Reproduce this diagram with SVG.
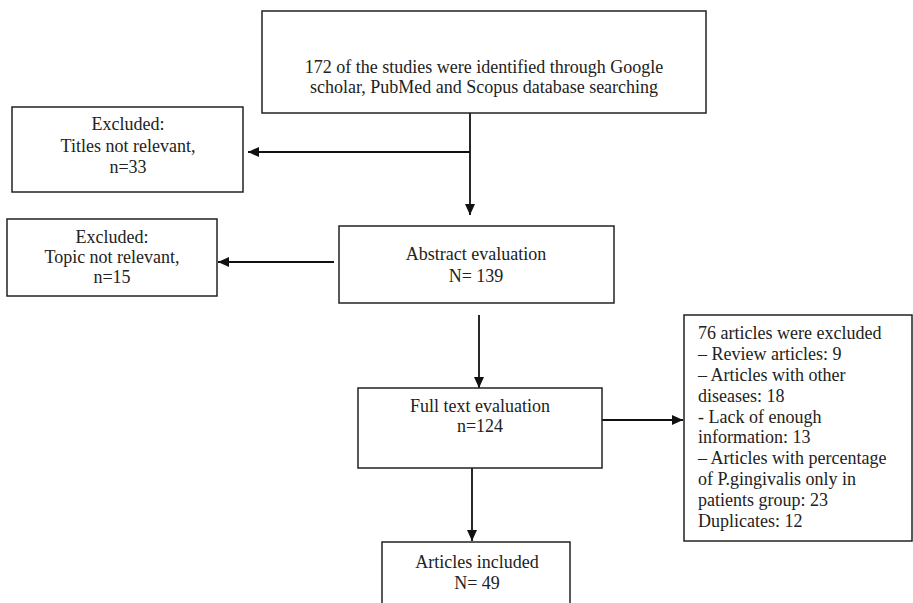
<svg xmlns="http://www.w3.org/2000/svg" width="913" height="603" viewBox="0 0 913 603">
<style>
.box{fill:#fff;stroke:#222;stroke-width:1.5}
.t{font-family:"Liberation Serif","Times New Roman",serif;font-size:18px;fill:#222}
.c{text-anchor:middle}
.ln{stroke:#111;stroke-width:1.8;fill:none}
</style>
<defs>
<marker id="ah" markerUnits="userSpaceOnUse" markerWidth="12" markerHeight="10" refX="11" refY="5" orient="auto">
<path d="M0,0 L11,5 L0,10 z" fill="#111"/>
</marker>
</defs>
<rect width="913" height="603" fill="#fff"/>
<g id="connectors">
<line class="ln" x1="470" y1="113" x2="470" y2="215" marker-end="url(#ah)"/>
<line class="ln" x1="470" y1="152" x2="248" y2="152" marker-end="url(#ah)"/>
<line class="ln" x1="334" y1="262" x2="218" y2="262" marker-end="url(#ah)"/>
<line class="ln" x1="479" y1="315" x2="479" y2="388" marker-end="url(#ah)"/>
<line class="ln" x1="602" y1="420" x2="683" y2="420" marker-end="url(#ah)"/>
<line class="ln" x1="472" y1="468" x2="472" y2="541" marker-end="url(#ah)"/>
</g>
<g id="identified">
<rect class="box" x="262" y="11" width="444" height="102"/>
<text class="t c" x="484" y="73">172 of the studies were identified through Google</text>
<text class="t c" x="484" y="93">scholar, PubMed and Scopus database searching</text>
</g>
<g id="excluded-titles">
<rect class="box" x="12" y="107" width="231" height="85"/>
<text class="t c" x="128" y="130">Excluded:</text>
<text class="t c" x="128" y="152">Titles not relevant,</text>
<text class="t c" x="128" y="173">n=33</text>
</g>
<g id="excluded-topic">
<rect class="box" x="7" y="219" width="210" height="77"/>
<text class="t c" x="112" y="243">Excluded:</text>
<text class="t c" x="112" y="263">Topic not relevant,</text>
<text class="t c" x="112" y="283">n=15</text>
</g>
<g id="abstract">
<rect class="box" x="339" y="226" width="275" height="77"/>
<text class="t c" x="476" y="260">Abstract evaluation</text>
<text class="t c" x="476" y="282">N= 139</text>
</g>
<g id="fulltext">
<rect class="box" x="358" y="388" width="244" height="80"/>
<text class="t c" x="480" y="412">Full text evaluation</text>
<text class="t c" x="480" y="432">n=124</text>
</g>
<g id="excluded-76">
<rect class="box" x="684" y="315" width="228" height="226"/>
<text class="t" x="698" y="339">76 articles were excluded</text>
<text class="t" x="698" y="360">– Review articles: 9</text>
<text class="t" x="698" y="381">– Articles with other</text>
<text class="t" x="698" y="402">diseases: 18</text>
<text class="t" x="698" y="423">- Lack of enough</text>
<text class="t" x="698" y="443">information: 13</text>
<text class="t" x="698" y="464">– Articles with percentage</text>
<text class="t" x="698" y="485">of P.gingivalis only in</text>
<text class="t" x="698" y="506">patients group: 23</text>
<text class="t" x="698" y="527">Duplicates: 12</text>
</g>
<g id="included">
<rect class="box" x="382" y="542" width="188" height="70"/>
<text class="t c" x="477" y="568">Articles included</text>
<text class="t c" x="477" y="589">N= 49</text>
</g>
</svg>
